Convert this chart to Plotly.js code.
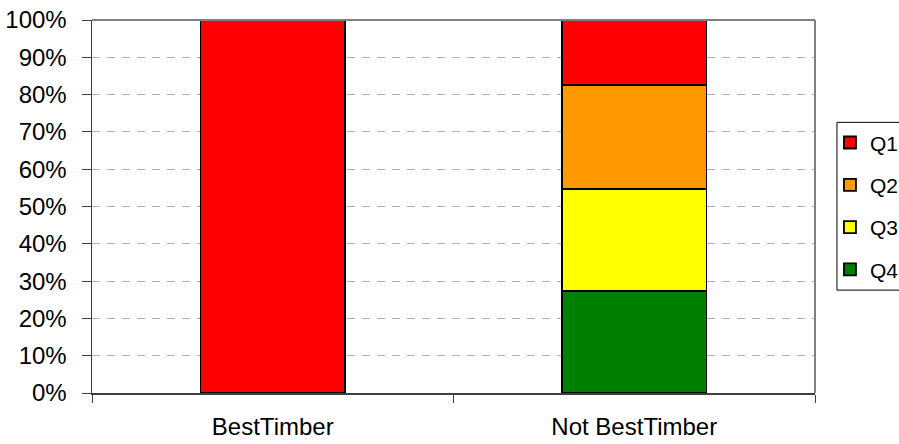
<!DOCTYPE html>
<html>
<head>
<meta charset="utf-8">
<script src="https://cdn.plot.ly/plotly-3.0.1.min.js"></script>
<style>html,body{margin:0;padding:0;background:#fff;}#chart{width:899px;height:444px;}</style>
</head>
<body>
<div id="chart"></div>
<script>
const categories = ["BestTimber", "Not BestTimber"];
const seriesNames = ["Q4", "Q3", "Q2", "Q1"];
const q4 = [0, 27.3];
const q3 = [0, 27.5];
const q2 = [0, 27.8];
const q1 = [100, 17.4];
const yTickVals = [0, 10, 20, 30, 40, 50, 60, 70, 80, 90, 100];
const yTickText = yTickVals.map(v => v + "%");

const seriesValues = [q4, q3, q2, q1];
const colors = ["#008000", "#FFFF00", "#FF9900", "#FF0000"];
const ranks = [4, 3, 2, 1];

const traces = seriesValues.map((vals, i) => ({
  type: "bar",
  name: seriesNames[i],
  x: categories,
  y: vals,
  width: 0.4,
  legendgroup: seriesNames[i],
  legendrank: ranks[i],
  marker: { color: colors[i], line: { color: "#000000", width: 1.8 } },
  hoverinfo: "x+y+name"
}));

const font = "Liberation Sans, Arial, sans-serif";
const layout = {
  width: 899, height: 444,
  margin: { l: 92, r: 84, t: 19.5, b: 51, pad: 0, autoexpand: false },
  paper_bgcolor: "#ffffff",
  plot_bgcolor: "#ffffff",
  barmode: "stack",
  showlegend: true,
  font: { family: font, size: 24, color: "#000000" },
  xaxis: {
    type: "category",
    tickson: "boundaries",
    ticks: "outside", ticklen: 8, tickcolor: "#404040", tickwidth: 1,
    ticklabelstandoff: 12,
    showline: true, linecolor: "#404040", linewidth: 1.5,
    showgrid: false, zeroline: false,
    tickfont: { family: font, size: 24, color: "#000000" }
  },
  yaxis: {
    range: [0, 100],
    tickmode: "array",
    tickvals: yTickVals,
    ticktext: yTickText,
    ticks: "outside", ticklen: 9, tickcolor: "#404040", tickwidth: 1,
    ticklabelstandoff: 10,
    showline: true, linecolor: "#404040", linewidth: 1.5,
    showgrid: true, gridcolor: "#b0b0b0", griddash: "8px,7px", gridwidth: 1,
    zeroline: false,
    tickfont: { family: font, size: 24, color: "#000000" }
  },
  shapes: [
    { type: "line", xref: "paper", yref: "paper", x0: 0, x1: 1, y0: 1, y1: 1, line: { color: "#808080", width: 2 } },
    { type: "line", xref: "paper", yref: "paper", x0: 1, x1: 1, y0: 0, y1: 1, line: { color: "#808080", width: 2 } },
    { type: "rect", xref: "paper", yref: "paper", x0: 1.0304, x1: 1.3, y0: 0.2758, y1: 0.7256, line: { color: "#000000", width: 1 }, fillcolor: "rgba(0,0,0,0)" }
  ],
  legend: {
    x: 1.0207, xanchor: "left",
    y: 0.7256, yanchor: "top",
    traceorder: "grouped",
    tracegroupgap: 12,
    bgcolor: "rgba(0,0,0,0)",
    borderwidth: 0,
    font: { family: font, size: 21, color: "#000000" }
  }
};

Plotly.newPlot("chart", traces, layout, { displayModeBar: false, staticPlot: true });
</script>
</body>
</html>
